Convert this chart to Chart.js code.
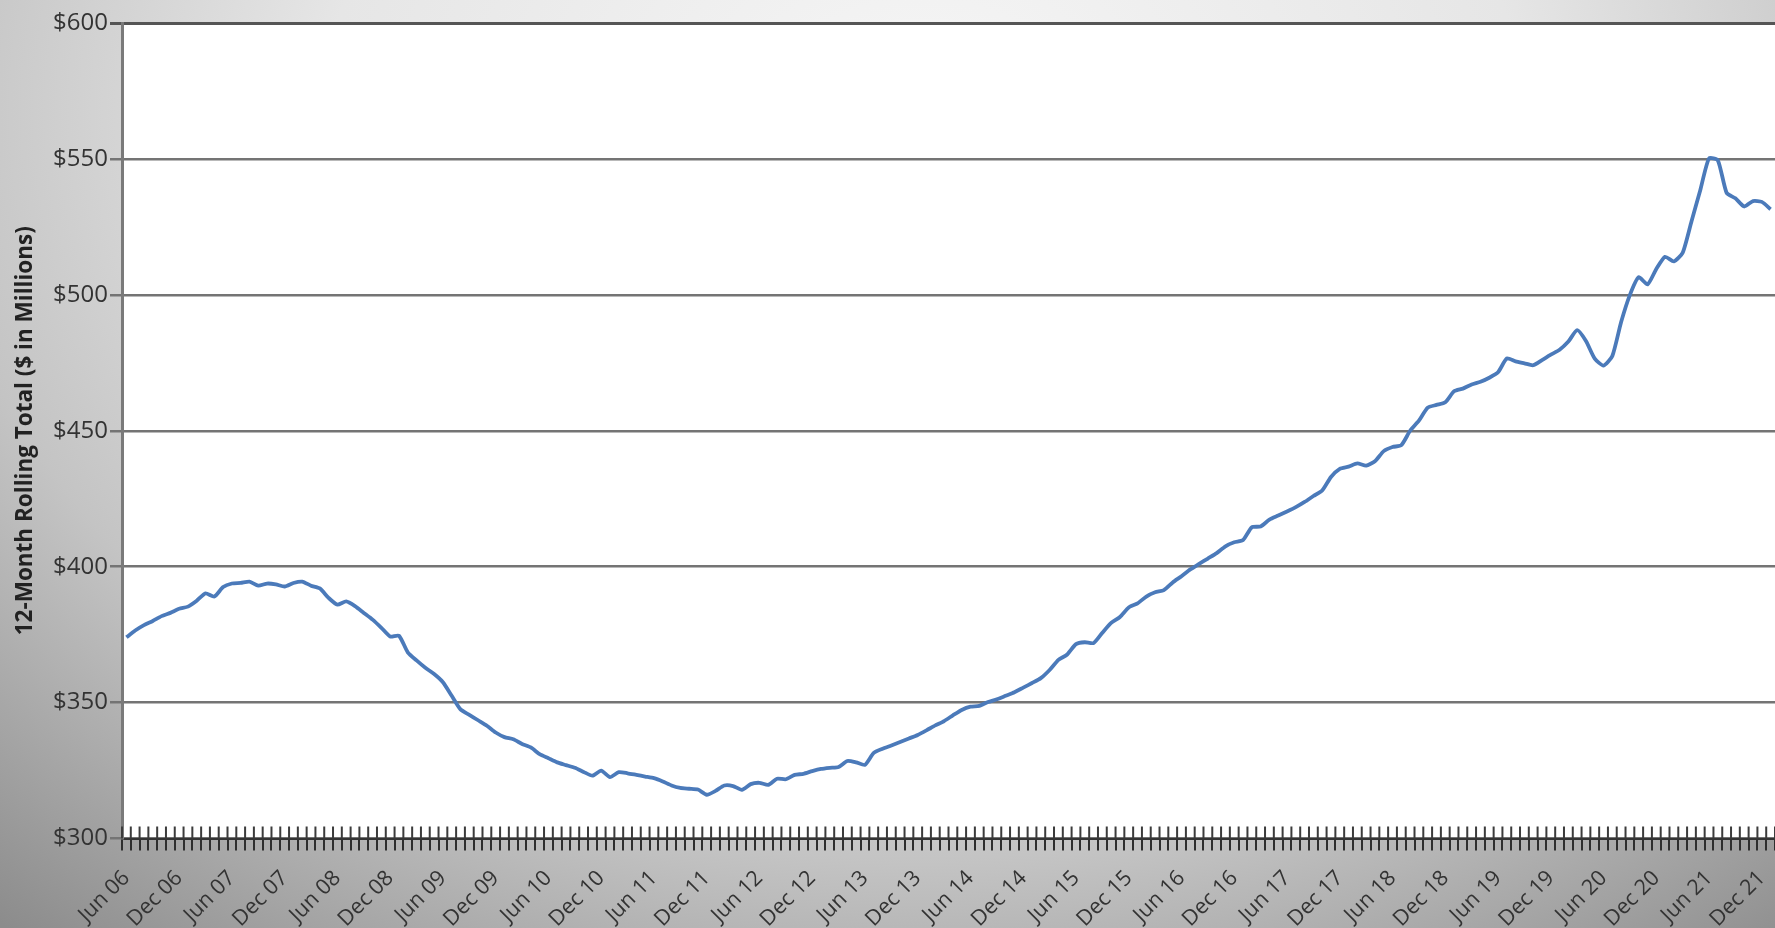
<!DOCTYPE html>
<html>
<head>
<meta charset="utf-8">
<script src="https://cdn.jsdelivr.net/npm/chart.js@4.4.1/dist/chart.umd.min.js"></script>
<style>
html,body{margin:0;padding:0;}
body{width:1775px;height:928px;overflow:hidden;
background:radial-gradient(ellipse 80% 115% at 52% 12%, #f6f6f6 0%, #e6e6e6 42%, #c4c4c4 70%, #8c8c8c 100%);}
#wrap{position:absolute;left:0;top:0;width:1775px;height:928px;}
</style>
</head>
<body>
<div id="wrap"><canvas id="c"></canvas></div>
<script>
// ---- categories: monthly, Jun 2006 .. Jan 2022 ----
const monthNames = ["Jan","Feb","Mar","Apr","May","Jun","Jul","Aug","Sep","Oct","Nov","Dec"];
const firstYear = 2006, firstMonth = 5, monthCount = 188;
const categories = [];
for (let i = 0; i < monthCount; i++) {
  const mi = firstMonth + i;
  const y = firstYear + Math.floor(mi / 12);
  categories.push(monthNames[mi % 12] + " " + String(y % 100).padStart(2, "0"));
}

// ---- tick labels shown on the x axis ----
const tickLabels = ["Jun 06","Dec 06","Jun 07","Dec 07","Jun 08","Dec 08","Jun 09","Dec 09",
  "Jun 10","Dec 10","Jun 11","Dec 11","Jun 12","Dec 12","Jun 13","Dec 13","Jun 14","Dec 14",
  "Jun 15","Dec 15","Jun 16","Dec 16","Jun 17","Dec 17","Jun 18","Dec 18","Jun 19","Dec 19",
  "Jun 20","Dec 20","Jun 21","Dec 21"];

// ---- y axis ticks ($ in millions) ----
const yTicks = [300, 350, 400, 450, 500, 550, 600];

// ---- 12-month rolling total, $ millions ----
const values2006to2008 = [374,376.5,378.5,380,381.8,383,384.5,385.3,387.5,390.2,389,392.5,
  393.8,394,394.5,393,393.8,393.5,392.7,394,394.5,393,392,388.5,
  386,387.2,385.5,383,380.5,377.5,374.3,374.6,368.5,365.5,362.8,360.5];
const values2009to2011 = [357.5,352.5,347.5,345.5,343.5,341.5,339,337.3,336.5,334.8,333.5,331,
  329.5,328,327,326,324.5,323.1,325,322.6,324.4,324,323.4,322.8,
  322.2,321,319.5,318.6,318.3,318,316.1,317.5,319.5,319.3,317.9,320];
const values2012to2014 = [320.5,319.7,322,321.8,323.4,323.8,324.8,325.6,326,326.3,328.5,328,
  327.1,331.5,333,334.2,335.5,336.8,338.1,339.8,341.6,343.2,345.3,347.3,
  348.5,348.8,350.2,351.2,352.5,353.8,355.5,357.2,359,362,365.7,367.7];
const values2015to2017 = [371.5,372.2,371.9,375.7,379.3,381.5,385,386.5,389,390.6,391.4,394.2,
  396.5,399,401,403,405,407.5,409,409.8,414.5,414.8,417.3,418.8,
  420.3,421.9,423.8,426,428,433,436,436.8,438,437.2,438.8,442.5];
const values2018to2020 = [444,444.7,450,453.7,458.5,459.5,460.5,464.5,465.5,467,468,469.5,
  471.5,476.6,475.5,474.8,474.1,476,478,479.8,482.8,487,483,476.5,
  474,477.5,490,500,506.5,503.8,509.5,514,512.3,515.5,527,538.5];
const values2021to2022 = [550.2,549.5,537.5,535.5,532.5,534.5,534.2,531.5];

const rollingTotal = [].concat(values2006to2008, values2009to2011, values2012to2014,
  values2015to2017, values2018to2020, values2021to2022);

const plotDecor = {
  id: 'plotDecor',
  beforeDraw(chart) {
    const {ctx, chartArea: a} = chart;
    ctx.save();
    ctx.fillStyle = '#ffffff';
    ctx.fillRect(a.left, a.top, a.right - a.left, a.bottom - a.top);
    ctx.restore();
  },
  afterDatasetsDraw(chart) {
    // upper half of the monthly tick marks (they cross the axis)
    const {ctx, chartArea: a, scales: {x}} = chart;
    ctx.save();
    ctx.strokeStyle = '#3c3c3c';
    ctx.lineWidth = 2;
    ctx.beginPath();
    for (let i = 0; i <= categories.length; i++) {
      const px = x.getPixelForValue(i - 0.5);
      if (px < a.left - 1 || px > a.right + 1) continue;
      ctx.moveTo(px, a.bottom - 12);
      ctx.lineTo(px, a.bottom);
    }
    ctx.stroke();
    ctx.restore();
  }
};

const fontFamily = "'Open Sans', 'DejaVu Sans', sans-serif";

new Chart(document.getElementById('c'), {
  type: 'line',
  data: {
    labels: categories,
    datasets: [{
      data: rollingTotal,
      borderColor: '#4b7aba',
      borderWidth: 3.8,
      pointRadius: 0,
      tension: 0.2,
      fill: false
    }]
  },
  options: {
    responsive: true,
    maintainAspectRatio: false,
    animation: false,
    layout: {padding: {top: 23, right: 0, bottom: 0, left: 0}},
    plugins: {legend: {display: false}, tooltip: {enabled: false}},
    scales: {
      x: {
        type: 'category',
        offset: true,
        grid: {
          display: true, offset: true, drawOnChartArea: false, drawTicks: true,
          tickLength: 12, color: '#2e2e2e', lineWidth: 2
        },
        border: {display: true, color: '#333333', width: 2},
        ticks: {
          autoSkip: false, maxRotation: 45, minRotation: 45,
          padding: 15, color: '#333333', font: {family: fontFamily, size: 21.5},
          callback: function(v, i) {
            const lab = categories[i];
            return tickLabels.includes(lab) ? lab : '';
          }
        },
        afterFit(scale) {
          scale.height = 89.5;
          scale.paddingRight = 0;
          scale.paddingLeft = 0;
        }
      },
      y: {
        min: yTicks[0], max: yTicks[yTicks.length - 1],
        afterBuildTicks(scale) { scale.ticks = yTicks.map(v => ({value: v})); },
        grid: {
          color: (c) => (c.tick && c.tick.value === 600) ? '#555555' : '#747474',
          lineWidth: (c) => (c.tick && c.tick.value === 600) ? 3 : 2.5,
          tickLength: 12, drawTicks: true
        },
        border: {display: true, color: '#7a7a7a', width: 3},
        ticks: {
          padding: 2, color: '#333333', font: {family: fontFamily, size: 24},
          callback: (v) => '$' + v
        },
        title: {
          display: true,
          text: '12-Month Rolling Total ($ in Millions)',
          color: '#222222',
          font: {family: fontFamily, size: 22.5, weight: 'bold'},
          padding: {top: 12, bottom: 0}
        },
        afterFit(scale) { scale.width = 122; }
      }
    }
  },
  plugins: [plotDecor]
});
</script>
</body>
</html>
